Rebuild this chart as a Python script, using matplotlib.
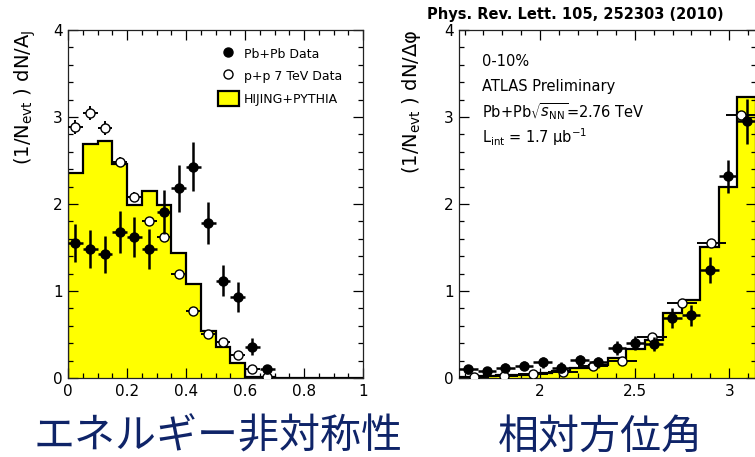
import numpy as np
import matplotlib
matplotlib.use("Agg")
import matplotlib.pyplot as plt
from matplotlib.lines import Line2D
from matplotlib.patches import Patch
from matplotlib.ticker import MultipleLocator

# ---- A_J (dijet energy asymmetry), 20 bins over 0..1 ----
aj_edges = np.linspace(0.0, 1.0, 21)
aj_hijing = [2.36, 2.69, 2.72, 2.46, 1.99, 2.15, 1.99, 1.44, 1.08, 0.54,
             0.36, 0.17, 0.01, 0.01, 0.0, 0.0, 0.0, 0.0, 0.0, 0.0]
aj_pbpb = [1.55, 1.48, 1.42, 1.68, 1.62, 1.48, 1.91, 2.18, 2.43, 1.78,
           1.12, 0.93, 0.36, 0.10]
aj_pbpb_err = [0.22, 0.22, 0.21, 0.24, 0.23, 0.23, 0.25, 0.27, 0.28, 0.24,
               0.18, 0.17, 0.10, 0.05]
aj_pp = [2.88, 3.05, 2.87, 2.48, 2.08, 1.80, 1.62, 1.20, 0.77, 0.51,
         0.41, 0.27, 0.10, 0.01]
aj_pp_err = [0.08, 0.08, 0.08, 0.06, 0.06, 0.05, 0.05, 0.04, 0.03, 0.03,
             0.03, 0.02, 0.02, 0.01]

# ---- delta phi between leading jets, pi/2..pi ----
dphi_edges = np.linspace(np.pi / 2, np.pi, 17)
dphi_pp_edges = np.linspace(np.pi / 2, np.pi, 11)
dphi_hijing = [0.01, 0.02, 0.03, 0.04, 0.06, 0.08, 0.11, 0.15,
               0.23, 0.33, 0.44, 0.75, 0.90, 1.50, 2.20, 3.23]
dphi_pbpb = [0.10, 0.08, 0.12, 0.14, 0.18, 0.12, 0.21, 0.18,
             0.35, 0.40, 0.39, 0.69, 0.72, 1.24, 2.32, 2.95]
dphi_pbpb_err = [0.05, 0.05, 0.05, 0.05, 0.06, 0.06, 0.06, 0.06,
                 0.08, 0.08, 0.08, 0.11, 0.12, 0.15, 0.19, 0.26]
dphi_pp = [0.01, 0.02, 0.05, 0.07, 0.14, 0.20, 0.475, 0.86, 1.55, 3.02]
dphi_pp_err = [0.01, 0.01, 0.01, 0.01, 0.02, 0.02, 0.02, 0.03, 0.03, 0.05]

legend_labels = ["Pb+Pb Data", "p+p 7 TeV Data", "HIJING+PYTHIA"]
jp_labels = ["エネルギー非対称性", "相対方位角"]

YELLOW = "#ffff00"
NAVY = "#0f2468"
W, H = 755, 457


def centers(edges, n):
    e = np.asarray(edges)
    return ((e[:-1] + e[1:]) / 2)[:n], ((e[1:] - e[:-1]) / 2)[:n]


def style_axes(ax):
    ax.tick_params(which="both", direction="in", top=True, right=True, width=0.9)
    ax.tick_params(which="major", length=7.5, labelsize=11, pad=4)
    ax.tick_params(which="minor", length=3.8)
    for s in ax.spines.values():
        s.set_linewidth(0.9)
        s.set_color("#222222")


def draw_panel(ax, edges, hist, pb_x, pb_xerr, pb, pb_err, pp_x, pp_xerr, pp, pp_err):
    ax.stairs(hist, edges, fill=True, color=YELLOW, zorder=1)
    ax.stairs(hist, edges, color="black", lw=1.6, zorder=2)
    ax.errorbar(pp_x, pp, yerr=pp_err, xerr=pp_xerr, fmt="o", ms=6.5,
                mfc="white", mec="black", mew=1.0, ecolor="black",
                elinewidth=1.4, capsize=0, zorder=3)
    ax.errorbar(pb_x, pb, yerr=pb_err, xerr=pb_xerr, fmt="o", ms=6.5,
                color="black", elinewidth=1.8, capsize=0, zorder=4)


fig = plt.figure(figsize=(W / 100, H / 100), dpi=100)

# left: A_J
ax1 = fig.add_axes([68 / W, 79 / H, 295 / W, 348 / H])
x1, xe1 = centers(aj_edges, len(aj_pbpb))
draw_panel(ax1, aj_edges, aj_hijing, x1, xe1, aj_pbpb, aj_pbpb_err,
           x1, xe1, aj_pp, aj_pp_err)
ax1.set_xlim(0, 1)
ax1.set_ylim(0, 4)
ax1.xaxis.set_major_locator(MultipleLocator(0.2))
ax1.xaxis.set_minor_locator(MultipleLocator(0.05))
ax1.yaxis.set_major_locator(MultipleLocator(1))
ax1.yaxis.set_minor_locator(MultipleLocator(0.2))
ax1.xaxis.set_major_formatter(plt.FuncFormatter(lambda v, p: f"{v:g}"))
style_axes(ax1)

handles = [
    Line2D([], [], ls="none", marker="o", ms=6.5, color="black"),
    Line2D([], [], ls="none", marker="o", ms=6.5, mfc="white", mec="black", mew=1.0),
    Patch(facecolor=YELLOW, edgecolor="black", lw=1.6),
]
ax1.legend(handles, legend_labels, loc="upper left",
           bbox_to_anchor=(218 / W, 1 - 46 / H), bbox_transform=fig.transFigure,
           frameon=False, fontsize=9, borderpad=0, borderaxespad=0,
           handlelength=1.65, handleheight=1.45, handletextpad=0.4,
           labelspacing=0.62)

# right: delta phi
ax2 = fig.add_axes([459 / W, 79 / H, 297 / W, 348 / H])
x2, xe2 = centers(dphi_edges, len(dphi_pbpb))
xp2, xpe2 = centers(dphi_pp_edges, len(dphi_pp))
draw_panel(ax2, dphi_edges, dphi_hijing, x2, xe2, dphi_pbpb, dphi_pbpb_err,
           xp2, xpe2, dphi_pp, dphi_pp_err)
ax2.set_xlim(np.pi / 2, np.pi)
ax2.set_ylim(0, 4)
ax2.xaxis.set_major_locator(MultipleLocator(0.5))
ax2.xaxis.set_minor_locator(MultipleLocator(0.1))
ax2.yaxis.set_major_locator(MultipleLocator(1))
ax2.yaxis.set_minor_locator(MultipleLocator(0.2))
ax2.xaxis.set_major_formatter(plt.FuncFormatter(lambda v, p: f"{v:g}"))
style_axes(ax2)

info = ["0-10%", "ATLAS Preliminary",
        r"Pb+Pb$\sqrt{s_{\rm NN}}$=2.76 TeV",
        r"L$_{\rm int}$ = 1.7 μb$^{-1}$"]
for i, line in enumerate(info):
    fig.text(482 / W, 1 - (61 + 25.5 * i) / H, line, fontsize=10.5,
             ha="left", va="center")

fig.text(427 / W, 1 - 15 / H, "Phys. Rev. Lett. 105, 252303 (2010)",
         fontsize=10.5, fontweight="bold", ha="left", va="center")

# y axis titles, aligned to the top of the frame
fig.text(25 / W, 1 - 30 / H, r"(1/N$_{\rm evt}$ ) dN/A$_{\rm J}$",
         rotation=90, fontsize=14, ha="center", va="top")
fig.text(411 / W, 1 - 30 / H, r"(1/N$_{\rm evt}$ ) dN/Δφ",
         rotation=90, fontsize=14, ha="center", va="top")

for label, xc in zip(jp_labels, [218, 600]):
    fig.text(xc / W, 1 - 437 / H, label, fontsize=29.5, color=NAVY,
             family=["Noto Sans CJK JP", "DejaVu Sans"], ha="center", va="center")

fig.savefig("out.png", dpi=100)
